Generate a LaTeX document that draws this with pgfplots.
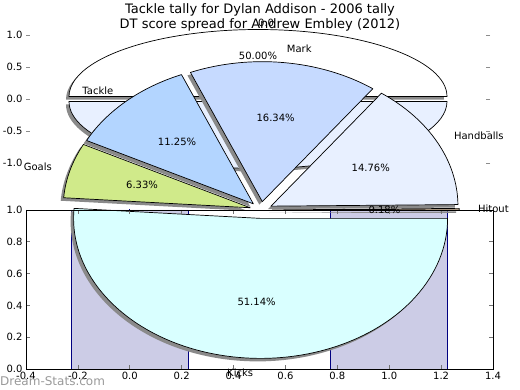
\documentclass[border=0pt]{standalone}
\usepackage{fontspec}
\setmainfont{DejaVu Sans}
\usepackage{pgfplots}
\pgfplotsset{compat=1.18}
\definecolor{navy}{RGB}{0,0,128}
\definecolor{cKicks}{RGB}{217,255,255}
\definecolor{cHand}{RGB}{232,240,255}
\definecolor{cMark}{RGB}{198,218,255}
\definecolor{cTackle}{RGB}{179,213,255}
\definecolor{cGoals}{RGB}{208,234,138}
\definecolor{cHit}{RGB}{255,228,196}
\definecolor{shad}{RGB}{138,138,138}
% #1 start %, #2 end % (cumulative), #3 explode, #4 x radius, #5 y radius
\newcommand{\pieshadow}[5]{%
  \fill[shad, xshift=-3pt, yshift=-3pt]
   (axis cs:{#3*#4*cos(1.8*(#1+#2))},{#3*#5*sin(1.8*(#1+#2))})
   -- (axis cs:{#3*#4*cos(1.8*(#1+#2))+#4*cos(3.6*#1)},{#3*#5*sin(1.8*(#1+#2))+#5*sin(3.6*#1)})
   arc[start angle={3.6*#1}, end angle={3.6*#2}, x radius=#4, y radius=#5] -- cycle;}
\newcommand{\pieslice}[6]{%
  \filldraw[fill=#6, draw=black, line width=0.7pt, line join=round]
   (axis cs:{#3*#4*cos(1.8*(#1+#2))},{#3*#5*sin(1.8*(#1+#2))})
   -- (axis cs:{#3*#4*cos(1.8*(#1+#2))+#4*cos(3.6*#1)},{#3*#5*sin(1.8*(#1+#2))+#5*sin(3.6*#1)})
   arc[start angle={3.6*#1}, end angle={3.6*#2}, x radius=#4, y radius=#5] -- cycle;}
\tikzset{lblfont/.style={font=\fontsize{10}{12}\selectfont}}
\pgfplotsset{
  numticks/.style={
    ticklabel style={font=\fontsize{10}{12}\selectfont},
    xticklabel style={/pgf/number format/.cd, fixed, fixed zerofill, precision=1, assume math mode=true},
    yticklabel style={/pgf/number format/.cd, fixed, fixed zerofill, precision=1, assume math mode=true},
  },
  barframe/.style={
    at={(26pt,21pt)}, anchor=south west, scale only axis,
    width=467pt, height=159pt,
    xmin=-0.4, xmax=1.4, ymin=0, ymax=1,
    xtick={-0.4,-0.2,0,0.2,0.4,0.6,0.8,1.0,1.2,1.4},
    ytick={0,0.2,0.4,0.6,0.8,1.0},
    tick align=inside, tick pos=both, major tick length=4pt,
    tick style={black!55, line width=0.6pt},
    axis line style={black, line width=0.8pt},
  },
}
\begin{document}
\begin{tikzpicture}
% ---------- background pie (Dylan Addison) ----------
\begin{axis}[
  at={(26pt,212pt)}, anchor=south west, scale only axis,
  width=464pt, height=158pt,
  xmin=-1.2275, xmax=1.2275, ymin=-1.232, ymax=1.232,
  clip=false, axis line style={draw=none},
  xtick=\empty, ytick={-1,-0.5,0,0.5,1},
  tick align=inside, ytick pos=both, major tick length=4pt,
  tick style={black!45, line width=0.6pt},
  numticks,
]
\pieshadow{0}{50}{0.037}{1}{1.045}
\pieshadow{50}{100}{0.037}{1}{1.045}
\pieslice{0}{50}{0.037}{1}{1.045}{white}
\pieslice{50}{100}{0.037}{1}{1.045}{cHand}
\node[lblfont, anchor=center] at (axis cs:0,{0.637*1.045}) {50.00\%};
\node[lblfont, anchor=west, inner sep=0pt] at (axis cs:0,{1.137*1.045}) {0.0};
\end{axis}
% ---------- bars ----------
\begin{axis}[barframe, numticks]
\addplot[ybar, bar width=0.45, fill=navy!20, draw=navy, line width=0.8pt]
  coordinates {(0,1) (1,1)};
\addplot[mark=none, navy, line width=0.8pt,
  error bars/.cd, y dir=both, y explicit,
  error bar style={navy, line width=0.8pt},
  error mark options={mark size=3pt, navy, line width=0.8pt}]
  coordinates {(0,1) += (0,0.08) -= (0,0.006)};
\end{axis}
% ---------- foreground pie (Andrew Embley) ----------
\begin{axis}[
  at={(-0.8pt,-2pt)}, anchor=south west, scale only axis,
  width=523.6pt, height=364pt,
  xmin=-1.4, xmax=1.4, ymin=-1.3, ymax=1.3,
  hide axis, clip=false,
]
% cumulative percentages: Hitout 0.18, Handballs 14.76, Mark 16.34, Tackle 11.25, Goals 6.33, Kicks 51.14
\pieshadow{0}{0.18}{0.06}{1}{1}
\pieshadow{0.18}{14.94}{0.06}{1}{1}
\pieshadow{14.94}{31.28}{0.06}{1}{1}
\pieshadow{31.28}{42.53}{0.06}{1}{1}
\pieshadow{42.53}{48.86}{0.06}{1}{1}
\pieshadow{48.86}{100}{0.06}{1}{1}
\pieslice{0}{0.18}{0.06}{1}{1}{cHit}
\pieslice{0.18}{14.94}{0.06}{1}{1}{cHand}
\pieslice{14.94}{31.28}{0.06}{1}{1}{cMark}
\pieslice{31.28}{42.53}{0.06}{1}{1}{cTackle}
\pieslice{42.53}{48.86}{0.06}{1}{1}{cGoals}
\pieslice{48.86}{100}{0.06}{1}{1}{cKicks}
% labels at 1.1 from exploded centre
\node[lblfont, anchor=west, inner sep=0pt] at (axis cs:{1.16*cos(0.324)},{1.16*sin(0.324)}) {Hitout};
\node[lblfont, anchor=west, inner sep=0pt] at (axis cs:{1.16*cos(27.216)},{1.16*sin(27.216)}) {Handballs};
\node[lblfont, anchor=west, inner sep=0pt] at (axis cs:{1.16*cos(83.196)},{1.16*sin(83.196)}) {Mark};
\node[lblfont, anchor=east, inner sep=0pt] at (axis cs:{1.16*cos(132.858)},{1.16*sin(132.858)}) {Tackle};
\node[lblfont, anchor=east, inner sep=0pt] at (axis cs:{1.16*cos(164.502)},{1.16*sin(164.502)}) {Goals};
\node[lblfont, anchor=east, inner sep=0pt] at (axis cs:{1.16*cos(267.948)},{1.16*sin(267.948)}) {Kicks};
% percentages at 0.6
\node[lblfont] at (axis cs:{0.66*cos(0.324)},{0.66*sin(0.324)}) {0.18\%};
\node[lblfont] at (axis cs:{0.66*cos(27.216)},{0.66*sin(27.216)}) {14.76\%};
\node[lblfont] at (axis cs:{0.66*cos(83.196)},{0.66*sin(83.196)}) {16.34\%};
\node[lblfont] at (axis cs:{0.66*cos(132.858)},{0.66*sin(132.858)}) {11.25\%};
\node[lblfont] at (axis cs:{0.66*cos(164.502)},{0.66*sin(164.502)}) {6.33\%};
\node[lblfont] at (axis cs:{0.66*cos(267.948)},{0.66*sin(267.948)}) {51.14\%};
\end{axis}
% ---------- bar axes frame on top ----------
\begin{axis}[barframe, xticklabels={}, yticklabels={}]
\end{axis}
% ---------- titles and watermark ----------
\node[font=\fontsize{13}{15}\selectfont] at (260pt,380pt) {Tackle tally for Dylan Addison - 2006 tally};
\node[font=\fontsize{13}{15}\selectfont] at (260pt,365pt) {DT score spread for Andrew Embley (2012)};
\node[font=\fontsize{12}{14}\selectfont, text=black!40, anchor=west, inner sep=0pt] at (0pt,9pt) {Dream-Stats.com};
\pgfresetboundingbox
\path[use as bounding box] (0,0) rectangle (520pt,390pt);
\end{tikzpicture}
\end{document}
